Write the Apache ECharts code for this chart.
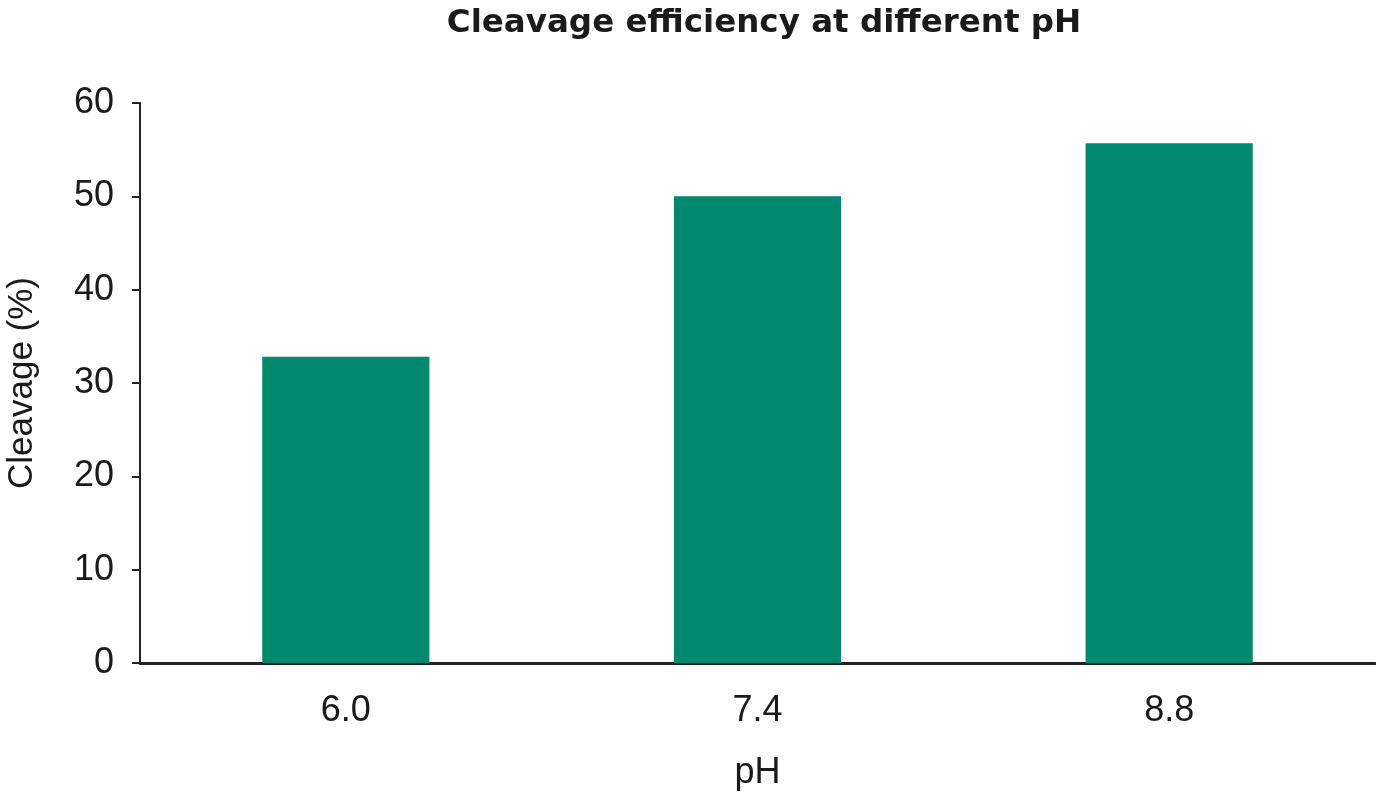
<!DOCTYPE html>
<html>
<head>
<meta charset="utf-8">
<script src="https://cdn.jsdelivr.net/npm/echarts@6/dist/echarts.min.js"></script>
<style>
  html, body { margin: 0; padding: 0; background: #fff; }
  #chart { width: 1376px; height: 794px; }
</style>
</head>
<body>
<div id="chart"></div>
<script>
const categories = ['6.0', '7.4', '8.8'];
const cleavage = [32.8, 50, 55.7];

const chart = echarts.init(document.getElementById('chart'));
const textColor = '#1a1a1a';
const bodyFont = 'Liberation Sans';
chart.setOption({
  animation: false,
  title: {
    text: 'Cleavage efficiency at different pH',
    left: 759,
    textAlign: 'center',
    top: 2,
    textStyle: {
      fontFamily: 'DejaVu Sans',
      fontWeight: 'bold',
      fontSize: 32.5,
      color: textColor
    }
  },
  grid: { left: 140, right: 1, top: 103, bottom: 131, outerBoundsMode: 'none', containLabel: false },
  xAxis: {
    type: 'category',
    data: categories,
    name: 'pH',
    nameLocation: 'middle',
    nameGap: 92,
    nameTextStyle: { fontFamily: bodyFont, fontSize: 36, color: textColor },
    axisLine: { lineStyle: { color: '#222', width: 3 } },
    axisTick: { show: false },
    axisLabel: { fontFamily: bodyFont, fontSize: 36, color: textColor, margin: 30 }
  },
  yAxis: {
    type: 'value',
    min: 0,
    max: 60,
    interval: 10,
    name: 'Cleavage (%)',
    nameLocation: 'middle',
    nameGap: 100,
    nameTextStyle: { fontFamily: bodyFont, fontSize: 35, color: textColor },
    axisLine: { show: true, lineStyle: { color: '#222', width: 2 } },
    axisTick: { show: true, length: 8, lineStyle: { color: '#222', width: 2 } },
    splitLine: { show: false },
    axisLabel: { fontFamily: bodyFont, fontSize: 36, color: textColor, margin: 26 }
  },
  series: [{
    type: 'bar',
    data: cleavage,
    barWidth: '40.6%',
    itemStyle: { color: '#00896E' }
  }]
});
</script>
</body>
</html>
